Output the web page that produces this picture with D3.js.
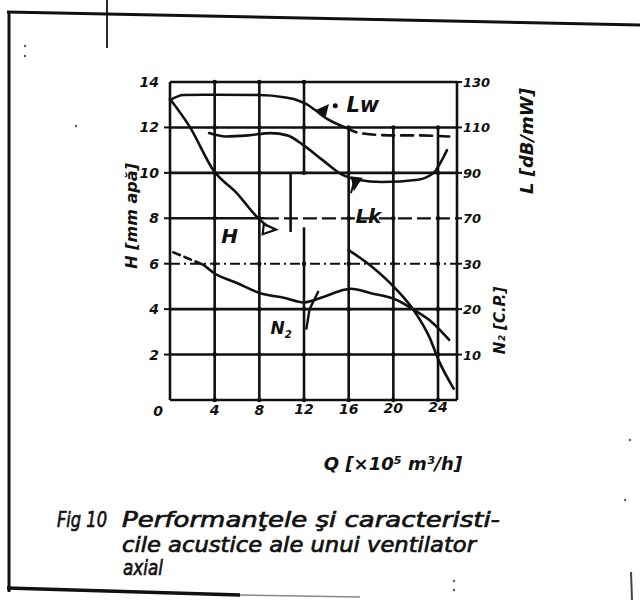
<!DOCTYPE html>
<html>
<head>
<meta charset="utf-8">
<script src="https://cdn.jsdelivr.net/npm/d3@7"></script>
<style>
  html, body { margin: 0; padding: 0; background: #fff; }
  svg { display: block; }
  text { font-family: "DejaVu Sans", sans-serif; font-style: italic; fill: #111; }
</style>
</head>
<body>
<svg id="chart" width="640" height="603"></svg>
<script>
// Axis ticks
const qTicks = [0, 4, 8, 12, 16, 20, 24];
const hTicks = [0, 2, 4, 6, 8, 10, 12, 14];
const lTicks = [70, 90, 110, 130];   // sound level, dB
const nTicks = [10, 20, 30];         // power, CP

// Pressure head H [mm apă] vs flow Q (middle part missing)
const hQ   = [0, 1.8, 3.9, 6.0, 7.8, 8.6, null, 16, 18, 20.3, 21.9, 23.2, 24.1, 25.4];
const hVal = [13.25, 12.0, 10.1, 9.1, 8.05, 7.7, null, 6.6, 5.9, 4.85, 3.9, 2.8, 1.7, 0.5];

// Sound power level Lw [dB]
const lwQ   = [0, 1.2, 4, 8, 10.2, 11.4, 12.3, 12.9, 14, 15.7, 17, 20, 22, 25];
const lwVal = [122, 124.3, 124.4, 124.3, 123.3, 122, 120, 118, 114, 110, 107.5, 106.5, 106.5, 106];
const lwDashFrom = 15.7;

// Sound level Lk [dB]
const lkQ   = [3.5, 5, 7, 9, 10.5, 12, 13.7, 15.5, 16.8, 19, 22.2, 23.6, 24.5, 24.8];
const lkVal = [107.5, 106, 106.5, 107.5, 106.5, 102, 95.5, 89, 87, 86, 87, 90, 97, 100];

// Shaft power N2 [CP]
const nQ   = [0.3, 3, 3.9, 6, 8.1, 10.2, 12, 13.8, 15.6, 16.2, 18, 20.3, 21.9, 23.4, 25];
const nVal = [32.5, 29.75, 28, 25.75, 23.5, 22.5, 21.5, 22.75, 24.25, 24.5, 23.5, 22, 19.75, 17.25, 13.25];
const nDashTo = 3;

// Curve labels, anchored in (Q, H) units
const curveLabels = [
  { text: "Lw", q: 15.8, h: 12.7, size: 21 },
  { text: "Lk", q: 16.6, h: 7.8,  size: 20 },
  { text: "H",  q: 4.6,  h: 6.9,  size: 20 },
  { text: "N",  q: 9.0,  h: 2.9,  size: 17, sub: "2" }
];

const svg = d3.select("#chart");
const x = d3.scaleLinear().domain([0, 25.7]).range([170, 457]);
const y = d3.scaleLinear().domain([0, 14]).range([400, 82]);
const yL = d3.scaleLinear().domain([-10, 130]).range([400, 82]);
const yN = d3.scaleLinear().domain([0, 70]).range([400, 82]);

const ink = "#111";

// ---- page frame ----
const frame = svg.append("g").attr("stroke", ink).attr("fill", "none");
frame.append("line").attr("x1", 7).attr("y1", 12).attr("x2", 640).attr("y2", 25).attr("stroke-width", 3);
frame.append("line").attr("x1", 9).attr("y1", 11).attr("x2", 9).attr("y2", 592).attr("stroke-width", 3);
frame.append("line").attr("x1", 7).attr("y1", 588).attr("x2", 240).attr("y2", 595).attr("stroke-width", 3.5);
frame.append("line").attr("x1", 240).attr("y1", 595).attr("x2", 360).attr("y2", 597).attr("stroke-width", 1.5).attr("stroke", "#888");
frame.append("line").attr("x1", 107).attr("y1", 0).attr("x2", 107).attr("y2", 48).attr("stroke-width", 1.8);
frame.append("line").attr("x1", 631).attr("y1", 572).attr("x2", 632).attr("y2", 600).attr("stroke-width", 2).attr("stroke", "#444");
// specks
[[25, 46], [25, 56], [76, 126], [454, 581], [454, 590], [625, 500], [630, 440]].forEach(p =>
  svg.append("circle").attr("cx", p[0]).attr("cy", p[1]).attr("r", 1.2).attr("fill", "#555"));

// ---- grid ----
const grid = svg.append("g").attr("stroke", ink).attr("stroke-width", 2.6).attr("fill", "none");
// horizontal lines (H=8 turns dashed past Q≈8.5, H=6 is dash-dot)
hTicks.forEach(h => {
  if (h === 8) {
    grid.append("line").attr("x1", x(0)).attr("x2", x(8.5)).attr("y1", y(h)).attr("y2", y(h));
    grid.append("line").attr("x1", x(8.5)).attr("x2", x(25.7)).attr("y1", y(h)).attr("y2", y(h))
      .attr("stroke-dasharray", "14 5").attr("stroke-width", 2.2);
    return;
  }
  const ln = grid.append("line")
    .attr("x1", x(0)).attr("x2", x(25.7))
    .attr("y1", y(h)).attr("y2", y(h));
  if (h === 6) ln.attr("stroke-dasharray", "10 4 2 4").attr("stroke-width", 2);
});
// vertical lines
[0, 4, 8, 25.7].forEach(q => grid.append("line")
  .attr("x1", x(q)).attr("x2", x(q)).attr("y1", y(0)).attr("y2", y(14)));
// Q=12 line is broken between H≈7.6 and H=10
grid.append("line").attr("x1", x(12)).attr("x2", x(12)).attr("y1", y(0)).attr("y2", y(7.6));
grid.append("line").attr("x1", x(12)).attr("x2", x(12)).attr("y1", y(10)).attr("y2", y(14));
[16, 20, 24].forEach(q => grid.append("line")
  .attr("x1", x(q)).attr("x2", x(q)).attr("y1", y(0)).attr("y2", y(12)));
// short vertical between H=8 and H=10
grid.append("line").attr("x1", x(10.8)).attr("x2", x(10.8)).attr("y1", y(7.4)).attr("y2", y(10));

// dots at intersections
const dots = svg.append("g").attr("fill", ink);
[4, 8, 12, 16, 20, 24].forEach(q => hTicks.forEach(h => {
  if ((h <= 12 || q <= 12) && !(q === 12 && h === 8)) {
    dots.append("circle").attr("cx", x(q)).attr("cy", y(h)).attr("r", 2.2);
  }
}));

// left ticks
svg.append("g").attr("stroke", ink).attr("stroke-width", 2)
  .selectAll("line").data(hTicks.filter(h => h > 0 && h < 14)).join("line")
  .attr("x1", x(0) - 6).attr("x2", x(0)).attr("y1", d => y(d)).attr("y2", d => y(d));
// right ticks
svg.append("g").attr("stroke", ink).attr("stroke-width", 2)
  .selectAll("line").data(lTicks.map(yL).concat(nTicks.map(yN))).join("line")
  .attr("x1", x(25.7)).attr("x2", x(25.7) + 5).attr("y1", d => d).attr("y2", d => d);

// ---- axis labels ----
const tickFont = 14;
svg.append("g").selectAll("text").data(hTicks.filter(h => h > 0)).join("text")
  .attr("x", x(0) - 11).attr("y", d => y(d) + 5)
  .attr("text-anchor", "end").attr("font-size", tickFont).attr("font-weight", "bold")
  .text(d => d);
svg.append("g").selectAll("text").data(qTicks).join("text")
  .attr("x", d => x(d) - (d === 0 ? 12 : 0)).attr("y", d => y(0) + 16 - d * 0.15)
  .attr("text-anchor", "middle").attr("font-size", tickFont).attr("font-weight", "bold")
  .text(d => d);
svg.append("g").selectAll("text").data(lTicks).join("text")
  .attr("x", x(25.7) + 6).attr("y", d => yL(d) + 5)
  .attr("font-size", 13).attr("font-weight", "bold")
  .text(d => d);
svg.append("g").selectAll("text").data(nTicks).join("text")
  .attr("x", x(25.7) + 6).attr("y", d => yN(d) + 5)
  .attr("font-size", 13).attr("font-weight", "bold")
  .text(d => d);

// axis titles
svg.append("text").attr("transform", `translate(137,${y(8.1)}) rotate(-90)`)
  .attr("text-anchor", "middle").attr("font-size", 16).attr("font-weight", "bold")
  .text("H [mm apă]");
svg.append("text").attr("transform", `translate(533,${y(11.4)}) rotate(-90)`)
  .attr("text-anchor", "middle").attr("font-size", 18).attr("font-weight", "bold")
  .text("L [dB/mW]");
svg.append("text").attr("transform", `translate(505,${y(3.5)}) rotate(-90)`)
  .attr("text-anchor", "middle").attr("font-size", 15).attr("font-weight", "bold")
  .text("N₂ [C.P.]");
svg.append("text").attr("x", 393).attr("y", 470)
  .attr("text-anchor", "middle").attr("font-size", 18).attr("font-weight", "bold")
  .text("Q [×10⁵ m³/h]");

// ---- curves ----
const curves = svg.append("g").attr("fill", "none").attr("stroke", ink)
  .attr("stroke-width", 2.6).attr("stroke-linecap", "round");
const pts = (qs, vs) => qs.map((q, i) => ({ q, v: vs[i] }));

// H curve
curves.append("path")
  .attr("d", d3.line().defined(d => d.q !== null).x(d => x(d.q)).y(d => y(d.v))
    .curve(d3.curveMonotoneX)(pts(hQ, hVal)));

// Lw
const lw = pts(lwQ, lwVal);
const lineL = d3.line().x(d => x(d.q)).y(d => yL(d.v)).curve(d3.curveMonotoneX);
curves.append("path").attr("d", lineL(lw.filter(d => d.q <= lwDashFrom)));
curves.append("path").attr("stroke-dasharray", "12 7")
  .attr("d", lineL(lw.filter(d => d.q >= lwDashFrom)));

// Lk
curves.append("path").attr("d", lineL(pts(lkQ, lkVal)));

// N2
const n2 = pts(nQ, nVal);
const lineN = d3.line().x(d => x(d.q)).y(d => yN(d.v)).curve(d3.curveMonotoneX);
curves.append("path").attr("stroke-dasharray", "7 5").attr("d", lineN(n2.filter(d => d.q <= nDashTo)));
curves.append("path").attr("d", lineN(n2.filter(d => d.q >= nDashTo)));

// ---- curve labels and leader marks ----
curveLabels.forEach(c => {
  const t = svg.append("text").attr("x", x(c.q)).attr("y", y(c.h))
    .attr("font-size", c.size).attr("font-weight", "bold").text(c.text);
  if (c.sub) t.append("tspan").attr("font-size", c.size * 0.6).attr("dy", 4).text(c.sub);
});
const marks = svg.append("g").attr("fill", ink).attr("stroke", ink).attr("stroke-width", 2);
// Lw pointer
marks.append("path").attr("d", `M${x(13.2)},${y(12.75)} L${x(14.1)},${y(12.95)} L${x(13.9)},${y(12.55)} Z`);
marks.append("circle").attr("cx", x(14.8)).attr("cy", y(12.95)).attr("r", 1.5);
// Lk pointer
marks.append("path").attr("fill", "none").attr("d", `M${x(16.6)},${y(9.8)} L${x(16.2)},${y(9.1)}`);
marks.append("path").attr("d", `M${x(16.3)},${y(9.8)} L${x(17.1)},${y(9.75)} L${x(16.5)},${y(9.3)} Z`);
// H pointer
marks.append("path").attr("fill", "none").attr("stroke-width", 2.2)
  .attr("d", `M${x(8.4)},${y(7.75)} L${x(8.3)},${y(7.3)} L${x(9.5)},${y(7.5)} Z`);
// N2 pointer
marks.append("path").attr("fill", "none").attr("stroke-width", 2.4)
  .attr("d", `M${x(12.2)},${y(3.1)} L${x(12.5)},${y(4.0)} L${x(13.3)},${y(4.8)}`);

// ---- caption (slightly thickened strokes) ----
const cap = svg.append("g").attr("font-size", 21)
  .attr("stroke", ink).attr("stroke-width", 0.7);
const capLine = (tx, px, py, len) => cap.append("text")
  .attr("x", px).attr("y", py).attr("textLength", len).attr("lengthAdjust", "spacingAndGlyphs").text(tx);
capLine("Fig 10", 57, 527, 50);
capLine("Performanţele şi caracteristi-", 122, 527, 378);
capLine("cile acustice ale unui ventilator", 122, 552, 354);
capLine("axial", 123, 575, 40);
</script>
</body>
</html>
